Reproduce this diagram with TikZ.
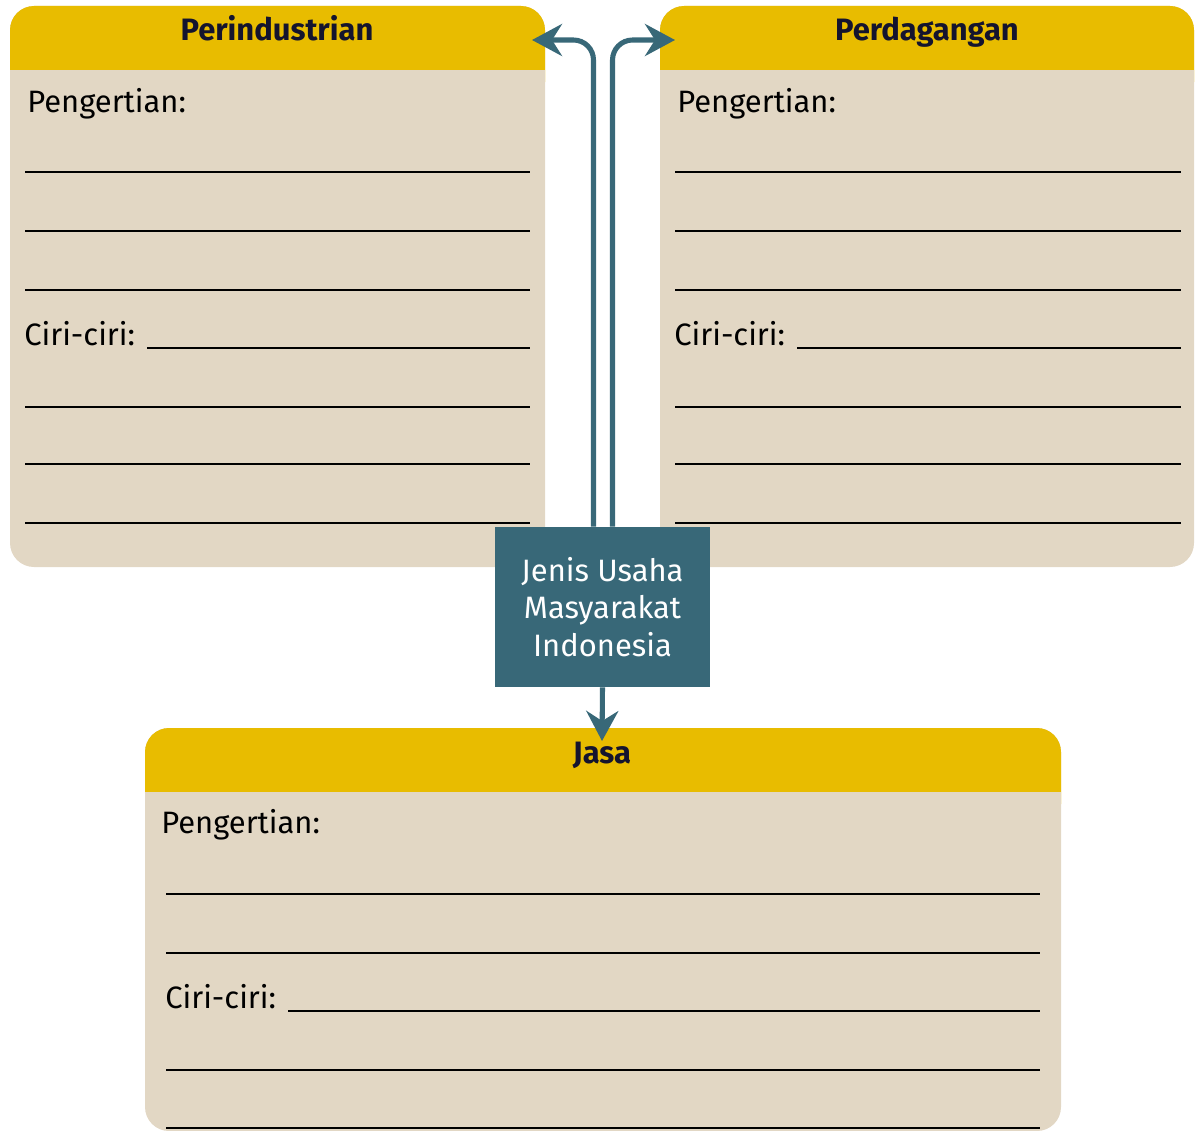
\documentclass[tikz,border=0pt]{standalone}
\usepackage{fontspec}
\setmainfont{Fira Sans}
\usepackage{tikz}
\usetikzlibrary{arrows.meta}
\definecolor{kuning}{HTML}{E8BC00}
\definecolor{krem}{HTML}{E2D7C4}
\definecolor{biru}{HTML}{386878}
\definecolor{tinta}{HTML}{14142E}

\begin{document}
\begin{tikzpicture}[x=0.025cm,y=-0.025cm,
    garis/.style={line width=1.4pt},
    teks/.style={anchor=base west,inner sep=0pt,font=\fontsize{22}{26}\selectfont},
    judul/.style={anchor=base,inner sep=0pt,text=tinta,font=\fontsize{22}{26}\selectfont\bfseries},
    panah/.style={draw=biru,line width=3.6pt,rounded corners=0.5cm,
      -{Stealth[length=0.75cm,width=0.8cm,inset=0.25cm]}}]
        \useasboundingbox (0,0) rectangle (1195,1130);
        \foreach \xa/\xb/\ya/\yb in {10/545/6/567, 660/1194/6/567, 145/1061/728/1131} {
          \fill[krem,rounded corners=0.6cm] (\xa,\ya) rectangle (\xb,\yb);
          \fill[kuning,rounded corners=0.6cm] (\xa,\ya) rectangle (\xb,\ya+100);
          \fill[krem] (\xa,\ya+64) rectangle (\xb,\ya+101);
        }
        \foreach \y in {172,231,290,407,464,523} {
          \draw[garis] (25,\y) -- (530,\y);
          \draw[garis] (675,\y) -- (1181,\y);
        }
        \draw[garis] (147,348) -- (530,348);
        \draw[garis] (797,348) -- (1181,348);
        \foreach \y in {894,953,1070,1128}
          \draw[garis] (166,\y) -- (1040,\y);
        \draw[garis] (288,1011) -- (1040,1011);
        \node[judul] (industri) at (277,41) {Perindustrian};
        \node[judul] (dagang) at (927,41) {Perdagangan};
        \node[judul] (jasa) at (602,763) {Jasa};
        \node[teks] (pengIndustri) at (27,112) {Pengertian:};
        \node[teks] (ciriIndustri) at (24,345) {Ciri-ciri:};
        \node[teks] (pengDagang) at (677,112) {Pengertian:};
        \node[teks] (ciriDagang) at (674,345) {Ciri-ciri:};
        \node[teks] (pengJasa) at (161,833) {Pengertian:};
        \node[teks] (ciriJasa) at (165,1008) {Ciri-ciri:};
        \node[fill=biru,text=white,minimum width=5.375cm,minimum height=4cm,align=center,
          font=\fontsize{22}{26.5}\selectfont] (usaha) at (602.5,607) {Jenis Usaha\\Masyarakat\\Indonesia};
        \coordinate (kiri) at (532,40);
        \coordinate (kanan) at (675,40);
        \coordinate (bawah) at (602,741);
        \draw[panah] ([xshift=-0.225cm]usaha.north) |- (kiri);
        \draw[panah] ([xshift=0.25cm]usaha.north) |- (kanan);
        \draw[panah] (usaha.south) -- (bawah);
      \end{tikzpicture}
\end{document}
